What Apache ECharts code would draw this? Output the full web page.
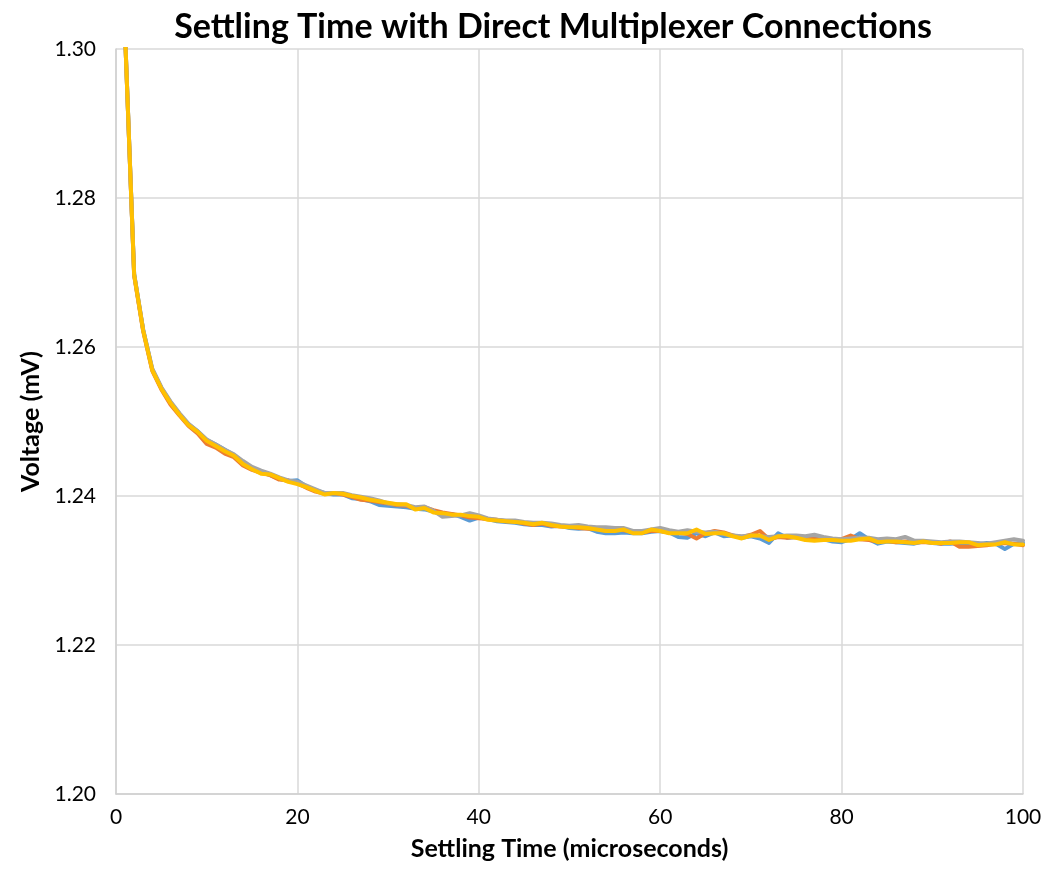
<!DOCTYPE html>
<html>
<head>
<meta charset="utf-8">
<script src="https://cdn.jsdelivr.net/npm/echarts@6/dist/echarts.min.js"></script>
<style>
html,body{margin:0;padding:0;background:#fff;}
#chart{width:1046px;height:879px;}
</style>
</head>
<body>
<div id="chart"></div>
<script>
// Settling time (microseconds): 1..100
const times = Array.from({length: 100}, (_, i) => i + 1);

const blueValues = [
1.3020,1.2698,1.2623,1.2570,1.2545,1.2526,1.2510,1.2496,1.2487,1.2475,
1.2469,1.2462,1.2455,1.2445,1.2438,1.2432,1.2428,1.2423,1.2420,1.2421,
1.2413,1.2408,1.2404,1.2402,1.2402,1.2397,1.2396,1.2393,1.2388,1.2387,
1.2386,1.2385,1.2383,1.2382,1.2379,1.2375,1.2376,1.2372,1.2367,1.2371,
1.2369,1.2366,1.2365,1.2364,1.2362,1.2361,1.2361,1.2359,1.2360,1.2357,
1.2356,1.2357,1.2352,1.2350,1.2350,1.2351,1.2350,1.2350,1.2352,1.2353,
1.2351,1.2345,1.2344,1.2350,1.2346,1.2351,1.2346,1.2347,1.2344,1.2346,
1.2343,1.2337,1.2350,1.2344,1.2345,1.2342,1.2344,1.2342,1.2339,1.2338,
1.2342,1.2350,1.2342,1.2336,1.2339,1.2338,1.2337,1.2336,1.2339,1.2337,
1.2336,1.2336,1.2337,1.2336,1.2335,1.2337,1.2336,1.2329,1.2336,1.2337];

const orangeValues = [
1.3020,1.2696,1.2621,1.2568,1.2543,1.2523,1.2508,1.2494,1.2484,1.2470,
1.2465,1.2457,1.2452,1.2441,1.2435,1.2431,1.2428,1.2422,1.2421,1.2417,
1.2411,1.2406,1.2403,1.2404,1.2402,1.2399,1.2395,1.2394,1.2392,1.2390,
1.2388,1.2387,1.2383,1.2385,1.2381,1.2378,1.2376,1.2374,1.2371,1.2370,
1.2369,1.2368,1.2366,1.2366,1.2363,1.2361,1.2363,1.2360,1.2359,1.2359,
1.2357,1.2356,1.2356,1.2354,1.2355,1.2354,1.2352,1.2351,1.2353,1.2353,
1.2351,1.2351,1.2349,1.2343,1.2350,1.2353,1.2351,1.2347,1.2345,1.2348,
1.2353,1.2342,1.2345,1.2344,1.2345,1.2343,1.2342,1.2342,1.2341,1.2342,
1.2347,1.2342,1.2341,1.2339,1.2340,1.2338,1.2339,1.2338,1.2338,1.2338,
1.2336,1.2339,1.2332,1.2332,1.2333,1.2334,1.2336,1.2337,1.2336,1.2334];

const grayValues = [
1.3020,1.2698,1.2623,1.2571,1.2546,1.2527,1.2511,1.2497,1.2487,1.2476,
1.2469,1.2462,1.2456,1.2447,1.2439,1.2434,1.2430,1.2425,1.2421,1.2419,
1.2414,1.2409,1.2404,1.2404,1.2404,1.2401,1.2399,1.2397,1.2394,1.2390,
1.2389,1.2388,1.2385,1.2386,1.2380,1.2372,1.2373,1.2374,1.2377,1.2374,
1.2370,1.2368,1.2367,1.2367,1.2365,1.2364,1.2364,1.2363,1.2361,1.2360,
1.2361,1.2359,1.2358,1.2358,1.2357,1.2357,1.2353,1.2353,1.2355,1.2357,
1.2354,1.2352,1.2354,1.2352,1.2351,1.2352,1.2349,1.2347,1.2346,1.2347,
1.2346,1.2345,1.2346,1.2347,1.2347,1.2346,1.2348,1.2345,1.2343,1.2342,
1.2343,1.2344,1.2344,1.2342,1.2343,1.2342,1.2345,1.2340,1.2340,1.2339,
1.2338,1.2339,1.2339,1.2338,1.2337,1.2336,1.2338,1.2340,1.2342,1.2340];

const yellowValues = [
1.3020,1.2697,1.2622,1.2569,1.2544,1.2525,1.2509,1.2495,1.2486,1.2474,
1.2467,1.2460,1.2454,1.2443,1.2436,1.2430,1.2429,1.2424,1.2419,1.2416,
1.2412,1.2407,1.2402,1.2404,1.2403,1.2400,1.2398,1.2395,1.2393,1.2391,
1.2389,1.2389,1.2382,1.2384,1.2378,1.2377,1.2375,1.2375,1.2373,1.2372,
1.2368,1.2367,1.2366,1.2365,1.2364,1.2362,1.2364,1.2361,1.2359,1.2358,
1.2358,1.2357,1.2355,1.2353,1.2353,1.2355,1.2350,1.2350,1.2355,1.2353,
1.2350,1.2350,1.2350,1.2355,1.2349,1.2350,1.2350,1.2346,1.2343,1.2347,
1.2347,1.2341,1.2346,1.2346,1.2344,1.2341,1.2340,1.2341,1.2341,1.2340,
1.2340,1.2342,1.2343,1.2338,1.2339,1.2339,1.2338,1.2337,1.2339,1.2337,
1.2337,1.2337,1.2338,1.2338,1.2334,1.2335,1.2335,1.2338,1.2335,1.2335];

const seriesDefs = [
  {name: 'Run 1', color: '#5B9BD5', values: blueValues},
  {name: 'Run 2', color: '#ED7D31', values: orangeValues},
  {name: 'Run 3', color: '#A5A5A5', values: grayValues},
  {name: 'Run 4', color: '#FFC000', values: yellowValues}
];

const FONT = 'Lato, "Open Sans", sans-serif';
const chart = echarts.init(document.getElementById('chart'), null, {renderer: 'canvas'});
chart.setOption({
  animation: false,
  backgroundColor: '#ffffff',
  title: {
    text: 'Settling Time with Direct Multiplexer Connections',
    left: 548, top: 5, textAlign: 'center',
    textStyle: {fontFamily: FONT, fontSize: 34, fontWeight: 'bold', color: '#000'}
  },
  grid: {left: 116, right: 23, top: 49, bottom: 85, containLabel: false},
  xAxis: {
    type: 'value', min: 0, max: 100, interval: 20,
    name: 'Settling Time (microseconds)', nameLocation: 'middle', nameGap: 42,
    nameTextStyle: {fontFamily: FONT, fontSize: 25, fontWeight: 'bold', color: '#000'},
    axisLine: {show: true, lineStyle: {color: '#D0D0D0', width: 1.5}},
    axisTick: {show: false},
    axisLabel: {fontFamily: FONT, fontSize: 21, color: '#000', margin: 13},
    splitLine: {show: true, lineStyle: {color: '#D9D9D9', width: 1.5}}
  },
  yAxis: {
    type: 'value', min: 1.2, max: 1.3, interval: 0.02,
    name: 'Voltage (mV)', nameLocation: 'middle', nameGap: 70, nameRotate: 90,
    nameTextStyle: {fontFamily: FONT, fontSize: 25, fontWeight: 'bold', color: '#000'},
    axisLine: {show: true, lineStyle: {color: '#D0D0D0', width: 1.5}},
    axisTick: {show: false},
    axisLabel: {fontFamily: FONT, fontSize: 21, color: '#000', margin: 20,
      formatter: v => v.toFixed(2)},
    splitLine: {show: true, lineStyle: {color: '#D9D9D9', width: 1.5}}
  },
  series: seriesDefs.map(s => ({
    name: s.name, type: 'line', showSymbol: false, clip: true,
    data: times.map((t, i) => [t, s.values[i]]),
    lineStyle: {color: s.color, width: 4, cap: 'round', join: 'round'},
    itemStyle: {color: s.color}
  }))
});
</script>
</body>
</html>
